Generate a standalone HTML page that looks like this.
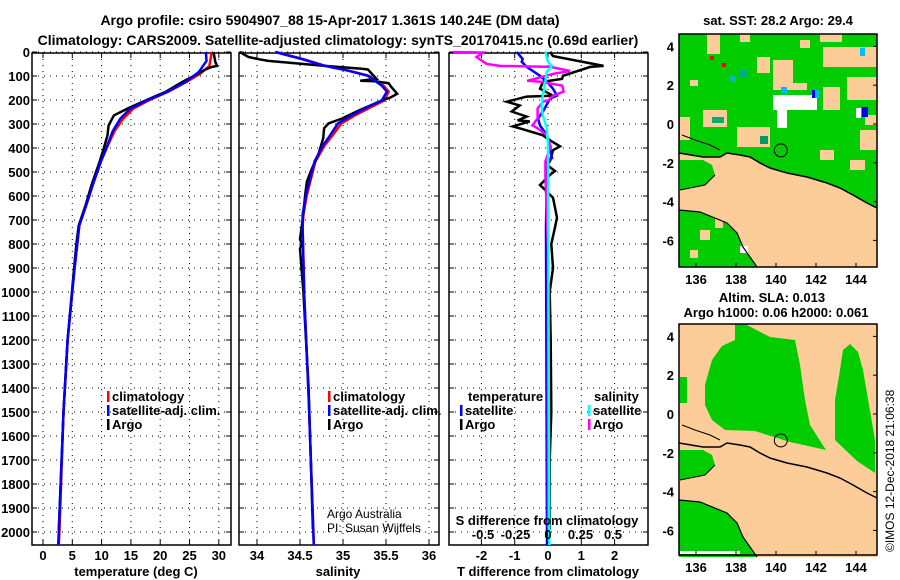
<!DOCTYPE html>
<html><head><meta charset="utf-8"><style>
html,body{margin:0;padding:0;background:#fff;}
svg{display:block;font-family:"Liberation Sans",sans-serif;}
.b{font-weight:bold;font-size:13px;}
.n{font-size:12px;}
.t{font-weight:bold;font-size:14px;}
</style></head><body>
<svg id="s" width="900" height="580" viewBox="0 0 900 580">
<text class="t" x="330" y="25" text-anchor="middle">Argo profile: csiro 5904907_88 15-Apr-2017 1.361S 140.24E (DM data)</text>
<text class="t" x="338" y="45" text-anchor="middle">Climatology: CARS2009. Satellite-adjusted climatology: synTS_20170415.nc (0.69d earlier)</text>
<g id="p1"></g>
<g id="p2"></g>
<g id="p3"></g>
<g id="m1"></g>
<g id="m2"></g>
<text class="b" x="778" y="25" text-anchor="middle">sat. SST: 28.2 Argo: 29.4</text>
<text class="b" x="772" y="302" text-anchor="middle">Altim. SLA: 0.013</text>
<text class="b" x="776" y="317" text-anchor="middle">Argo h1000: 0.06 h2000: 0.061</text>
<text x="0" y="0" font-size="12" transform="translate(894,552) rotate(-90)">©IMOS 12-Dec-2018 21:06:38</text>
</svg>
<script>
// ---- data ----
const depthTicks=[0,100,200,300,400,500,600,700,800,900,1000,1100,1200,1300,1400,1500,1600,1700,1800,1900,2000];
const tempTicks=[0,5,10,15,20,25,30];
const salTicks=[34,34.5,35,35.5,36];
const salTickLabels=["34","34.5","35","35.5","36"];
const tdTicks=[-2,-1,0,1,2];
const sdTicks=[-0.5,-0.25,0,0.25,0.5];
const sdTickLabels=["-0.5","-0.25","0","0.25","0.5"];
const latTicks=[4,2,0,-2,-4,-6];
const lonTicks=[136,138,140,142,144];

const tClimD=[0,58,91,124,165,202,236,277,330,388,455,553,636,723,900,1200,1500,2000,2054];
const tClimV=[28.8,28.4,26.8,24.5,21.4,18,15.4,13.7,12.2,11.1,9.9,8.5,7.4,6.2,5.4,4.2,3.5,2.8,2.7];
const tSatD=[0,37,83,124,165,202,236,277,330,388,455,553,636,723,900,1200,1500,2000,2054];
const tSatV=[27.8,27.9,26.6,24.4,21.3,17.7,14.9,13.2,11.9,11.0,9.9,8.5,7.4,6.2,5.4,4.2,3.5,2.7,2.6];
const tArgoD=[0,41,58,62,72,103,124,165,186,236,264,306,347,400,455,553,636,723,800,900,1200,1500,1990];
const tArgoV=[29.1,29.4,29.7,28.8,27.8,25.5,23.8,21,19,14.4,12.1,11.2,11.0,10.4,9.7,8.3,7.3,6.1,5.7,5.3,4.2,3.5,2.7];

const sSatD=[0,29,58,78,99,140,165,202,227,264,298,347,388,455,525,595,678,731,1020,1430,2054];
const sSatV=[34.21,34.52,34.79,35.06,35.29,35.45,35.51,35.45,35.3,35.1,34.94,34.85,34.77,34.67,34.62,34.57,34.53,34.53,34.55,34.6,34.66];
const sClimD=[0,29,58,78,99,140,165,202,227,264,298,347,388,455,525,595,678,731,1020,1430,2054];
const sClimV=[34.22,34.53,34.8,35.07,35.3,35.47,35.53,35.48,35.34,35.14,34.98,34.88,34.79,34.68,34.63,34.58,34.54,34.53,34.55,34.6,34.66];
const sArgoD=[0,21,30,37,58,70,73,112,120,122,130,145,174,190,202,244,277,298,318,360,430,485,540,595,700,780,800,820,1000,1400,1990];
const sArgoV=[33.8,33.9,34.02,34.13,34.79,35.22,35.29,35.39,35.2,35.37,35.53,35.56,35.63,35.55,35.45,35.18,34.99,34.83,34.78,34.77,34.71,34.64,34.58,34.56,34.53,34.5,34.52,34.5,34.54,34.6,34.65];

const dtArgoD=[0,17,58,62,99,112,124,153,182,186,207,223,248,269,285,289,310,318,347,368,393,409,455,471,496,512,554,566,607,690,731,800,900,1000,1200,1500,1700,1990];
const dtArgoV=[0.06,0.15,1.67,1.27,0.45,0.42,-0.15,-0.24,0.15,-0.64,-1.24,-0.85,-1.09,-0.64,-0.91,-0.55,-1.06,-0.85,-0.15,0.06,0.36,0.15,0.06,-0.03,0.21,0.06,-0.24,-0.15,0.15,0.27,0.21,0.1,0.15,0.05,0.08,0.1,0.05,0.05];
const dtSatD=[0,29,41,62,99,124,153,182,194,248,277,306,347,401,442,455,731,2054];
const dtSatV=[-0.94,-0.76,-0.79,-0.64,-0.24,-0.03,0.15,0.27,0.06,-0.15,-0.3,-0.24,-0.03,0.06,0.12,-0.03,-0.06,-0.03];
const dsArgoD=[0,2,21,50,58,62,79,91,103,120,124,140,165,182,202,207,236,277,306,318,347,393,455,512,814,1990];
const dsArgoV=[-0.73,-0.5,-0.55,-0.47,-0.37,0.02,0.17,0.04,-0.04,-0.16,-0.06,0.11,0.12,0.04,0,-0.04,-0.08,-0.08,-0.12,-0.08,-0.01,0.02,-0.02,-0.02,0,0];
const dsSatD=[0,41,58,83,124,182,223,264,318,388,2054];
const dsSatV=[-0.02,0,0.03,-0.01,-0.02,-0.04,-0.05,-0.04,-0.01,0,0.01];

// ---- helpers ----
const NS="http://www.w3.org/2000/svg";
function mk(parent,tag,attrs){const e=document.createElementNS(NS,tag);for(const k in attrs)e.setAttribute(k,attrs[k]);parent.appendChild(e);return e;}
const TOP=53,BOT=545;
const yD=d=>52+d*0.24;
const xT=t=>43+t*5.86;
const xS=s=>257+(s-34)*86;
const xDT=v=>548+v*33.3;
const xDS=v=>548+v*130;

function panel(g,x0,x1,gridXs,showDepth){
  for(const d of depthTicks){
    const l=mk(g,'line',{x1:x0,x2:x1,y1:yD(d),y2:yD(d),stroke:'#000','stroke-width':1,'stroke-dasharray':'1,5'});
    
    
    mk(g,'line',{x1:x0,x2:x0+5,y1:yD(d),y2:yD(d),stroke:'#000'});
    mk(g,'line',{x1:x1-5,x2:x1,y1:yD(d),y2:yD(d),stroke:'#000'});
    if(showDepth){
      const t=mk(g,'text',{x:30,y:yD(d)+5,'text-anchor':'end',class:'b'});t.textContent=d;
      
      
    }
  }
  for(const x of gridXs){
    mk(g,'line',{x1:x,x2:x,y1:TOP,y2:BOT,stroke:'#000','stroke-dasharray':'1,5'});
    mk(g,'line',{x1:x,x2:x,y1:BOT-5,y2:BOT,stroke:'#000'});
    mk(g,'line',{x1:x,x2:x,y1:TOP,y2:TOP+5,stroke:'#000'});
  }
  const r=mk(g,'rect',{x:x0,y:TOP,width:x1-x0,height:BOT-TOP,fill:'none',stroke:'#000','stroke-width':1.5});
  
  
}
function line(g,ds,vs,sx,col,name,w){
  const pts=ds.map((d,i)=>sx(vs[i]).toFixed(1)+','+yD(d).toFixed(1)).join(' ');
  const p=mk(g,'polyline',{points:pts,fill:'none',stroke:col,'stroke-width':w||2.5,'stroke-linejoin':'miter'});
  
  
}
function txt(g,x,y,s,cls,anchor,name){
  const t=mk(g,'text',{x:x,y:y,class:cls,'text-anchor':anchor||'start'});t.textContent=s;
  
  
  return t;
}
function legend(g,x,y,col,label){
  mk(g,'rect',{x:x,y:y-10,width:2.5,height:11,fill:col});
  txt(g,x+5,y,label,'b','start','legend-entry');
}

// ---- panel 1 ----
const p1=document.getElementById('p1');
panel(p1,32,231,tempTicks.map(xT),true);
line(p1,tClimD,tClimV,xT,'#f00','temp-climatology-line');
line(p1,tArgoD,tArgoV,xT,'#000','temp-argo-line');
line(p1,tSatD,tSatV,xT,'#00f','temp-satellite-line');
tempTicks.forEach(t=>txt(p1,xT(t),560,String(t),'b','middle','temp-tick-label'));
txt(p1,136,576,'temperature (deg C)','b','middle','x-axis-title-temperature');
legend(p1,107,401,'#f00','climatology');
legend(p1,107,415,'#00f','satellite-adj. clim.');
legend(p1,107,429,'#000','Argo');

// ---- panel 2 ----
const p2=document.getElementById('p2');
panel(p2,239,439,salTicks.map(xS),false);
line(p2,sClimD,sClimV,xS,'#f00','sal-climatology-line');
line(p2,sArgoD,sArgoV,xS,'#000','sal-argo-line');
line(p2,sSatD,sSatV,xS,'#00f','sal-satellite-line');
salTicks.forEach((s,i)=>txt(p2,xS(s),560,salTickLabels[i],'b','middle','sal-tick-label'));
txt(p2,338,576,'salinity','b','middle','x-axis-title-salinity');
legend(p2,328,401,'#f00','climatology');
legend(p2,328,415,'#00f','satellite-adj. clim.');
legend(p2,328,429,'#000','Argo');
txt(p2,327,518,'Argo Australia','n','start','credit-argo-australia');
txt(p2,327,532,'PI: Susan Wijffels','n','start','credit-pi');

// ---- panel 3 ----
const p3=document.getElementById('p3');
panel(p3,449,648,tdTicks.map(xDT),false);
line(p3,dtArgoD,dtArgoV,xDT,'#000','tdiff-argo-line');
line(p3,dtSatD,dtSatV,xDT,'#00f','tdiff-satellite-line');
line(p3,dsArgoD,dsArgoV,xDS,'#f0f','sdiff-argo-line');
line(p3,dsSatD,dsSatV,xDS,'#0ff','sdiff-satellite-line');
tdTicks.forEach(t=>txt(p3,xDT(t),560,String(t),'b','middle','tdiff-tick-label'));
txt(p3,548,576,'T difference from climatology','b','middle','x-axis-title-tdiff');
txt(p3,547,525,'S difference from climatology','b','middle','s-diff-title');
sdTicks.forEach((s,i)=>txt(p3,xDS(s),539,sdTickLabels[i],'b','middle','sdiff-tick-label'));
txt(p3,468,401,'temperature','b','start','legend-title-temperature');
legend(p3,460,415,'#00f','satellite');
legend(p3,460,429,'#000','Argo');
txt(p3,594,401,'salinity','b','start','legend-title-salinity');
legend(p3,588,415,'#0ff','satellite');
legend(p3,588,429,'#f0f','Argo');

// ---- maps ----
const LAND='#fccc99',SEA='#00cc00';
const xL=l=>696+(l-136)*20;
function pts(a,o){return a.map(p=>p[0]+','+(p[1]+o)).join(' ');}
function map(g,y0,y1,lat0y,noisy){
  const yL=l=>lat0y-l*19.4;
  const X0=679,X1=877;
  const o=lat0y-124;
  mk(g,'rect',{x:X0,y:y0,width:X1-X0,height:y1-y0,fill:noisy?SEA:LAND});
  if(!noisy){
    mk(g,'polygon',{points:pts([[735,y0-o],[745,y0-o],[770,47],[795,50],[800,75],[805,110],[810,135],[826,160],[790,152],[755,141],[725,140],[712,130],[705,115],[705,95],[712,70],[722,56],[735,50]],o),fill:SEA});
    mk(g,'polygon',{points:pts([[843,60],[850,54],[858,62],[863,80],[875,150],[875,183],[857,171],[835,150],[835,110],[840,80]],o),fill:SEA});
    mk(g,'rect',{x:680,y:377,width:7,height:26,fill:SEA});
  } else {
    const patches=[[707,34,13,20,LAND],[740,34,10,8,LAND],[820,34,22,8,LAND],[823,47,54,20,LAND],[847,77,30,23,LAND],[823,87,17,23,LAND],[680,117,10,23,LAND],[773,60,20,30,LAND],[737,127,33,20,LAND],[703,110,24,17,LAND],[757,57,13,16,LAND],[793,83,14,7,LAND],[860,130,17,20,LAND],[820,150,14,10,LAND],[690,80,8,6,LAND],[800,40,10,8,LAND],[865,115,12,10,LAND],[850,160,15,10,LAND],[773,95,44,15,'#fff'],[777,110,10,18,'#fff'],[712,117,12,6,'#00b070'],[760,136,8,8,'#009966'],[740,70,8,8,'#00b070'],[812,90,4,8,'#00f'],[815,90,4,8,'#0bf'],[862,107,6,10,'#00f'],[856,108,5,10,'#fff'],[710,56,4,4,'#f00'],[722,63,4,4,'#f00'],[730,76,6,6,'#0bb'],[781,87,6,6,'#0bf'],[860,48,5,8,'#0bf']];
    patches.forEach(p=>mk(g,'rect',{x:p[0],y:p[1],width:p[2],height:p[3],fill:p[4]}));
  }
  const coast=[[679,153],[703,157],[720,157],[727,153],[740,155],[750,157],[760,163],[770,168],[787,173],[807,177],[827,183],[840,188],[853,195],[867,203],[877,208]];
  const south=[[679,210],[700,212],[727,223],[737,233],[743,247],[750,257],[757,267]];
  mk(g,'polygon',{points:pts(coast.concat([[877,267],[757,267]]).concat(south.slice().reverse()),o),fill:LAND});
  // south-west sea
  const sw=mk(g,'polygon',{points:pts(south.concat([[679,267]]),o),fill:SEA});
  if(noisy){
    [[700,230,10,10],[715,218,8,10],[690,250,8,8]].forEach(p=>mk(g,'rect',{x:p[0],y:p[1],width:p[2],height:p[3],fill:LAND}));
    mk(g,'rect',{x:740,y:246,width:8,height:7,fill:'#fff'});
  } else {
    mk(g,'rect',{x:680,y:y1-4,width:60,height:3,fill:'#fff'});
  }
  mk(g,'polygon',{points:pts([[680,160],[703,160],[712,165],[715,175],[705,185],[690,188],[680,190]],o),fill:SEA});
  mk(g,'polyline',{points:pts(coast,o),fill:'none',stroke:'#000','stroke-width':1.5});
  mk(g,'polyline',{points:pts(south,o),fill:'none',stroke:'#000','stroke-width':1.2});
  mk(g,'polyline',{points:pts([[680,190],[690,188],[705,185],[715,175]],o),fill:'none',stroke:'#000','stroke-width':1});
  mk(g,'polyline',{points:pts([[682,135],[695,140],[710,145],[720,150]],o),fill:'none',stroke:'#000','stroke-width':1});
  const c=mk(g,'circle',{cx:xL(140.24),cy:yL(-1.361),r:6.5,fill:'none',stroke:'#000','stroke-width':1});
  
  
  mk(g,'rect',{x:X0,y:y0,width:X1-X0,height:y1-y0,fill:'none',stroke:'#000','stroke-width':1.5});
  latTicks.forEach(l=>{
    mk(g,'line',{x1:X1-4,x2:X1,y1:yL(l),y2:yL(l),stroke:'#000'});
    txt(g,674,yL(l)+5,String(l),'b','end','lat-tick-label');
  });
  lonTicks.forEach(l=>{
    mk(g,'line',{x1:xL(l),x2:xL(l),y1:y1-4,y2:y1,stroke:'#000'});
    txt(g,xL(l),y1+17,String(l),'b','middle','lon-tick-label');
  });
}
map(document.getElementById('m1'),34,267,124,true);
map(document.getElementById('m2'),324,555,414,false);
</script>
</body></html>
